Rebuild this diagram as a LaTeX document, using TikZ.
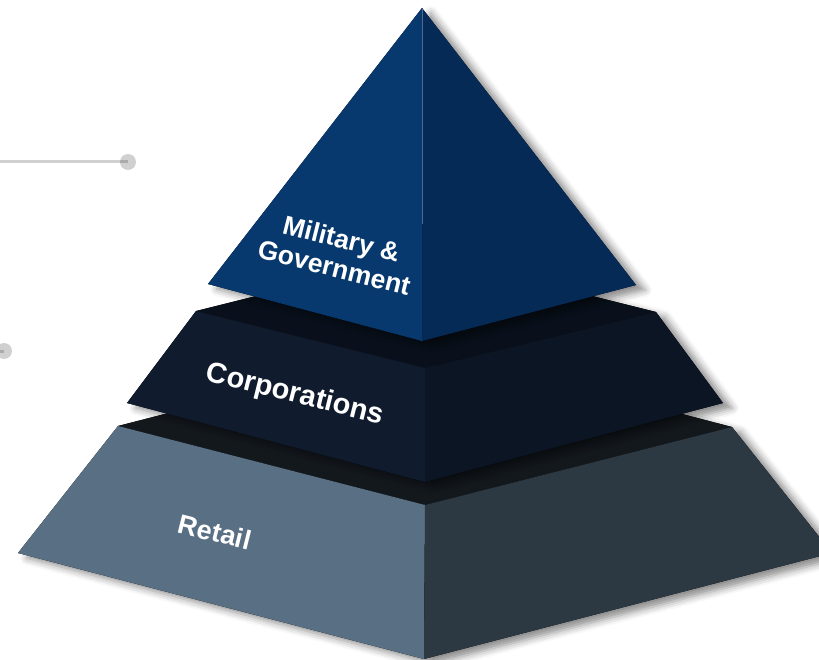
\documentclass[tikz,border=0pt]{standalone}
\usepackage{fontspec}
\setmainfont{Liberation Sans}
\usepackage{tikz}
\usetikzlibrary{shadows.blur}

\definecolor{milleft}{HTML}{08396E}
\definecolor{milright}{HTML}{062A56}
\definecolor{milridge}{HTML}{4C6C96}
\definecolor{corptop}{HTML}{09101B}
\definecolor{corpleft}{HTML}{101C2E}
\definecolor{corpright}{HTML}{0C1523}
\definecolor{rettop}{HTML}{13181D}
\definecolor{retleft}{HTML}{596F84}
\definecolor{retright}{HTML}{2C3842}
\definecolor{markgray}{HTML}{D0D0D0}

\begin{document}
\begin{tikzpicture}[x=1pt, y=-1pt]
    % --- DEFINE STYLES ---
    % Style for the white tier labels
    \tikzstyle{tier_label} = [text=white, rotate=-14, align=center, inner sep=0pt]
    % Style for the silhouette that throws the shadow
    \tikzstyle{tier_shadow} = [fill=black, blur shadow={shadow xshift=9pt, shadow yshift=-5pt, shadow blur radius=7pt, shadow opacity=45}]
    % Style for the grey markers on the left
    \tikzstyle{mark_dot} = [circle, fill=markgray, inner sep=0pt, minimum size=16pt]
    \tikzstyle{leader} = [line width=3pt, draw=black, draw opacity=0.18]

    \useasboundingbox (0,0) rectangle (819,660);
    \clip (0,0) rectangle (819,660);

    % --- LEFT MARKERS ---
    \foreach \n/\x/\y in {top/128/162, low/4/351} {
        \node[mark_dot] (dot_\n) at (\x,\y) {};
        \coordinate (end_\n) at (-20,\y);
        \draw[leader] (end_\n) -- (dot_\n.center);
    }

    % --- RETAIL (bottom tier) ---
    \fill[tier_shadow] (118,426) -- (425,347) -- (732,427) -- (832,553) -- (424,659) -- (18,553) -- cycle;
    \fill[rettop] (118,426) -- (425,347) -- (732,427) -- (425,505) -- cycle;
    \fill[retleft] (118,426) -- (425,505) -- (424,659) -- (18,553) -- cycle;
    \fill[retright] (425,505) -- (732,427) -- (832,553) -- (424,659) -- cycle;

    % --- CORPORATIONS (middle tier) ---
    \fill[tier_shadow] (196,311) -- (425,254) -- (656,312) -- (723,403) -- (425,482) -- (127,403) -- cycle;
    \fill[corptop] (196,311) -- (425,254) -- (656,312) -- (425,368) -- cycle;
    \fill[corpleft] (196,311) -- (425,368) -- (425,482) -- (127,403) -- cycle;
    \fill[corpright] (425,368) -- (656,312) -- (723,403) -- (425,482) -- cycle;

    % --- MILITARY & GOVERNMENT (top) ---
    \fill[tier_shadow] (422,8) -- (636,285) -- (422,341) -- (208,284) -- cycle;
    \fill[milleft] (422,8) -- (422,341) -- (208,284) -- cycle;
    \fill[milright] (422,8) -- (636,285) -- (422,341) -- cycle;
    \draw[milridge, line width=0.8pt] (422,9) -- (422,224);

    % Identification labels
    \node[tier_label, font=\bfseries\fontsize{26.5}{30}\selectfont] (military) at (338,253) {Military \&\\Government};
    \node[tier_label, font=\bfseries\fontsize{29}{34}\selectfont] (corporations) at (295,395) {Corporations};
    \node[tier_label, font=\bfseries\fontsize{27}{32}\selectfont] (retail) at (215,532) {Retail};
\end{tikzpicture}
\end{document}
